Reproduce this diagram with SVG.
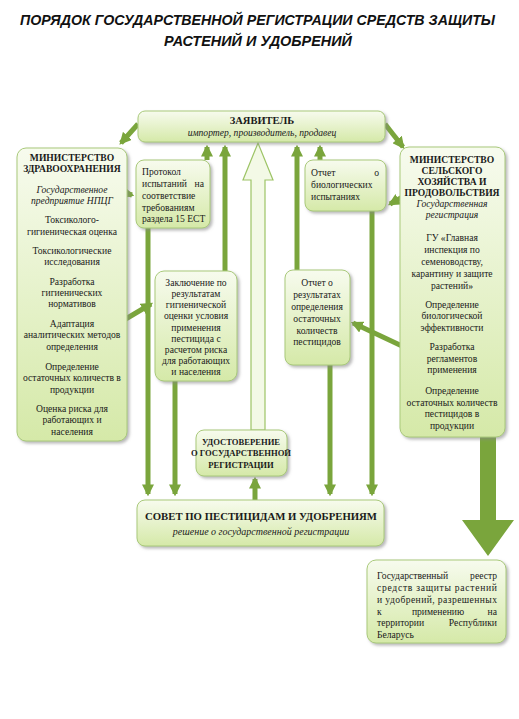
<svg xmlns="http://www.w3.org/2000/svg" width="519" height="719" viewBox="0 0 519 719">
<style>
.t{font-family:"Liberation Sans",Arial,sans-serif;font-weight:bold;font-style:italic;font-size:14px;fill:#111}
.s{font-family:"Liberation Serif","Times New Roman",serif;font-size:9.6px;fill:#1a1a1a}
.c{text-anchor:middle}
.b{font-weight:bold}
.i{font-style:italic}
.box{fill:url(#g);stroke:#a9c97a;stroke-width:1;filter:url(#sh)}
.ln{stroke:#7aa53c;stroke-width:5;fill:none}
.ah{fill:#7aa53c}
</style>
<defs>
<linearGradient id="g" x1="0" y1="0" x2="0" y2="1">
<stop offset="0" stop-color="#f7fbee"/>
<stop offset="1" stop-color="#d5e9a8"/>
</linearGradient>
<filter id="sh" x="-10%" y="-10%" width="130%" height="130%">
<feDropShadow dx="2" dy="2" stdDeviation="1.5" flood-color="#888" flood-opacity="0.6"/>
</filter>
<marker id="a" viewBox="0 0 10 10" refX="8" refY="5" markerWidth="2.4" markerHeight="2.4" orient="auto" markerUnits="strokeWidth">
<path d="M0,0 L10,5 L0,10 z" class="ah"/>
</marker>
</defs>
<rect width="519" height="719" fill="#fff"/>
<g id="title">
<text class="t" x="20" y="25" textLength="475" lengthAdjust="spacingAndGlyphs">ПОРЯДОК ГОСУДАРСТВЕННОЙ РЕГИСТРАЦИИ СРЕДСТВ ЗАЩИТЫ</text>
<text class="t" x="164" y="46" textLength="188" lengthAdjust="spacingAndGlyphs">РАСТЕНИЙ И УДОБРЕНИЙ</text>
</g>
<g id="connectors">
<line class="ln" x1="138" y1="124" x2="121" y2="143" marker-end="url(#a)"/>
<line class="ln" x1="385" y1="124" x2="403" y2="147" marker-end="url(#a)"/>
<line class="ln" x1="118" y1="191" x2="132" y2="195" marker-end="url(#a)"/>
<line class="ln" x1="124" y1="320" x2="151" y2="304" marker-end="url(#a)"/>
<line class="ln" x1="408" y1="194" x2="390" y2="204" marker-end="url(#a)"/>
<line class="ln" x1="402" y1="346" x2="353" y2="323" marker-end="url(#a)"/>
<line class="ln" x1="207" y1="160" x2="207" y2="147" marker-end="url(#a)"/>
<line class="ln" x1="225" y1="271" x2="225" y2="147" marker-end="url(#a)"/>
<line class="ln" x1="297" y1="270" x2="297" y2="147" marker-end="url(#a)"/>
<line class="ln" x1="320" y1="160" x2="320" y2="147" marker-end="url(#a)"/>
<line class="ln" x1="148" y1="228" x2="148" y2="494" marker-end="url(#a)"/>
<line class="ln" x1="175" y1="381" x2="175" y2="494" marker-end="url(#a)"/>
<line class="ln" x1="330" y1="364" x2="330" y2="494" marker-end="url(#a)"/>
<line class="ln" x1="372" y1="211" x2="372" y2="494" marker-end="url(#a)"/>
<line class="ln" x1="255" y1="500" x2="255" y2="479" marker-end="url(#a)"/>
<path d="M251,430 L251,180 L243,180 L258,143 L273,180 L265,180 L265,430 Z" fill="#f3f9e6" stroke="#9dc466" stroke-width="1.2"/>
<path d="M480,437 L496,437 L496,520 L514,520 L488,556 L462,520 L480,520 Z" fill="#7aa53c"/>
</g>
<g id="applicant">
<rect class="box" x="138" y="111" width="247" height="31" rx="7"/>
<text class="s c b" x="262" y="124" style="font-size:10.5px">ЗАЯВИТЕЛЬ</text>
<text class="s c i" x="262" y="136">импортер, производитель, продавец</text>
</g>
<g id="ministry-health">
<rect class="box" x="17" y="148" width="110" height="293" rx="9"/>
<text class="s c b" x="72" y="161">МИНИСТЕРСТВО</text>
<text class="s c b" x="72" y="172">ЗДРАВООХРАНЕНИЯ</text>
<text class="s c i" x="72" y="193">Государственное</text>
<text class="s c i" x="72" y="204">предприятие НПЦГ</text>
<text class="s c" x="72" y="223">Токсиколого-</text>
<text class="s c" x="72" y="235">гигиеническая оценка</text>
<text class="s c" x="72" y="254">Токсикологические</text>
<text class="s c" x="72" y="265">исследования</text>
<text class="s c" x="72" y="285">Разработка</text>
<text class="s c" x="72" y="296">гигиенических</text>
<text class="s c" x="72" y="307">нормативов</text>
<text class="s c" x="72" y="327">Адаптация</text>
<text class="s c" x="72" y="338">аналитических методов</text>
<text class="s c" x="72" y="350">определения</text>
<text class="s c" x="72" y="370">Определение</text>
<text class="s c" x="72" y="381">остаточных количеств в</text>
<text class="s c" x="72" y="393">продукции</text>
<text class="s c" x="72" y="412">Оценка риска для</text>
<text class="s c" x="72" y="423">работающих и</text>
<text class="s c" x="72" y="435">населения</text>
</g>
<g id="protocol">
<rect class="box" x="136" y="160" width="74" height="68" rx="8"/>
<text class="s" x="142" y="175">Протокол</text>
<text class="s" x="142" y="187">испытаний</text>
<text class="s" x="204" y="187" text-anchor="end">на</text>
<text class="s" x="142" y="199">соответствие</text>
<text class="s" x="142" y="211">требованиям</text>
<text class="s" x="142" y="222">раздела 15 ЕСТ</text>
</g>
<g id="conclusion">
<rect class="box" x="155" y="271" width="82" height="110" rx="9"/>
<text class="s c" x="196" y="286">Заключение по</text>
<text class="s c" x="196" y="297">результатам</text>
<text class="s c" x="196" y="308">гигиенической</text>
<text class="s c" x="196" y="319">оценки условия</text>
<text class="s c" x="196" y="331">применения</text>
<text class="s c" x="196" y="342">пестицида с</text>
<text class="s c" x="196" y="353">расчетом риска</text>
<text class="s c" x="196" y="364">для работающих</text>
<text class="s c" x="196" y="375">и населения</text>
</g>
<g id="bio-report">
<rect class="box" x="305" y="160" width="81" height="51" rx="8"/>
<text class="s" x="311" y="176">Отчет</text>
<text class="s" x="379" y="176" text-anchor="end">о</text>
<text class="s" x="311" y="188">биологических</text>
<text class="s" x="311" y="200">испытаниях</text>
</g>
<g id="residue-report">
<rect class="box" x="285" y="270" width="65" height="95" rx="8"/>
<text class="s c" x="317" y="286">Отчет о</text>
<text class="s c" x="317" y="298">результатах</text>
<text class="s c" x="317" y="310">определения</text>
<text class="s c" x="317" y="322">остаточных</text>
<text class="s c" x="317" y="334">количеств</text>
<text class="s c" x="317" y="345">пестицидов</text>
</g>
<g id="ministry-agriculture">
<rect class="box" x="400" y="147" width="105" height="290" rx="9"/>
<text class="s c b" x="452" y="163">МИНИСТЕРСТВО</text>
<text class="s c b" x="452" y="174">СЕЛЬСКОГО</text>
<text class="s c b" x="452" y="185">ХОЗЯЙСТВА И</text>
<text class="s c b" x="452" y="196">ПРОДОВОЛЬСТВИЯ</text>
<text class="s c i" x="452" y="207">Государственная</text>
<text class="s c i" x="452" y="218">регистрация</text>
<text class="s c" x="452" y="241">ГУ «Главная</text>
<text class="s c" x="452" y="253">инспекция по</text>
<text class="s c" x="452" y="265">семеноводству,</text>
<text class="s c" x="452" y="277">карантину и защите</text>
<text class="s c" x="452" y="289">растений»</text>
<text class="s c" x="452" y="308">Определение</text>
<text class="s c" x="452" y="319">биологической</text>
<text class="s c" x="452" y="331">эффективности</text>
<text class="s c" x="452" y="350">Разработка</text>
<text class="s c" x="452" y="362">регламентов</text>
<text class="s c" x="452" y="373">применения</text>
<text class="s c" x="452" y="394">Определение</text>
<text class="s c" x="452" y="406">остаточных количеств</text>
<text class="s c" x="452" y="417">пестицидов в</text>
<text class="s c" x="452" y="429">продукции</text>
</g>
<g id="certificate">
<rect class="box" x="196" y="430" width="91" height="46" rx="8"/>
<text class="s c b" x="241" y="445" style="font-size:8.6px">УДОСТОВЕРЕНИЕ</text>
<text class="s c b" x="241" y="456" style="font-size:8.6px">О ГОСУДАРСТВЕННОЙ</text>
<text class="s c b" x="241" y="468" style="font-size:8.6px">РЕГИСТРАЦИИ</text>
</g>
<g id="council">
<rect class="box" x="137" y="500" width="247" height="46" rx="8"/>
<text class="s b" x="145" y="520" style="font-size:11px" textLength="232" lengthAdjust="spacingAndGlyphs">СОВЕТ ПО ПЕСТИЦИДАМ И УДОБРЕНИЯМ</text>
<text class="s c i" x="261" y="535" style="font-size:10px">решение о государственной регистрации</text>
</g>
<g id="register">
<rect class="box" x="367" y="560" width="139" height="83" rx="9"/>
<text class="s" x="377" y="579">Государственный</text>
<text class="s" x="497" y="579" text-anchor="end">реестр</text>
<text class="s" x="377" y="591" textLength="120" lengthAdjust="spacing">средств защиты растений</text>
<text class="s" x="377" y="603" textLength="120" lengthAdjust="spacing">и удобрений, разрешенных</text>
<text class="s" x="377" y="615">к</text>
<text class="s c" x="438" y="615">применению</text>
<text class="s" x="497" y="615" text-anchor="end">на</text>
<text class="s" x="377" y="626">территории</text>
<text class="s" x="497" y="626" text-anchor="end">Республики</text>
<text class="s" x="377" y="638">Беларусь</text>
</g>
</svg>
